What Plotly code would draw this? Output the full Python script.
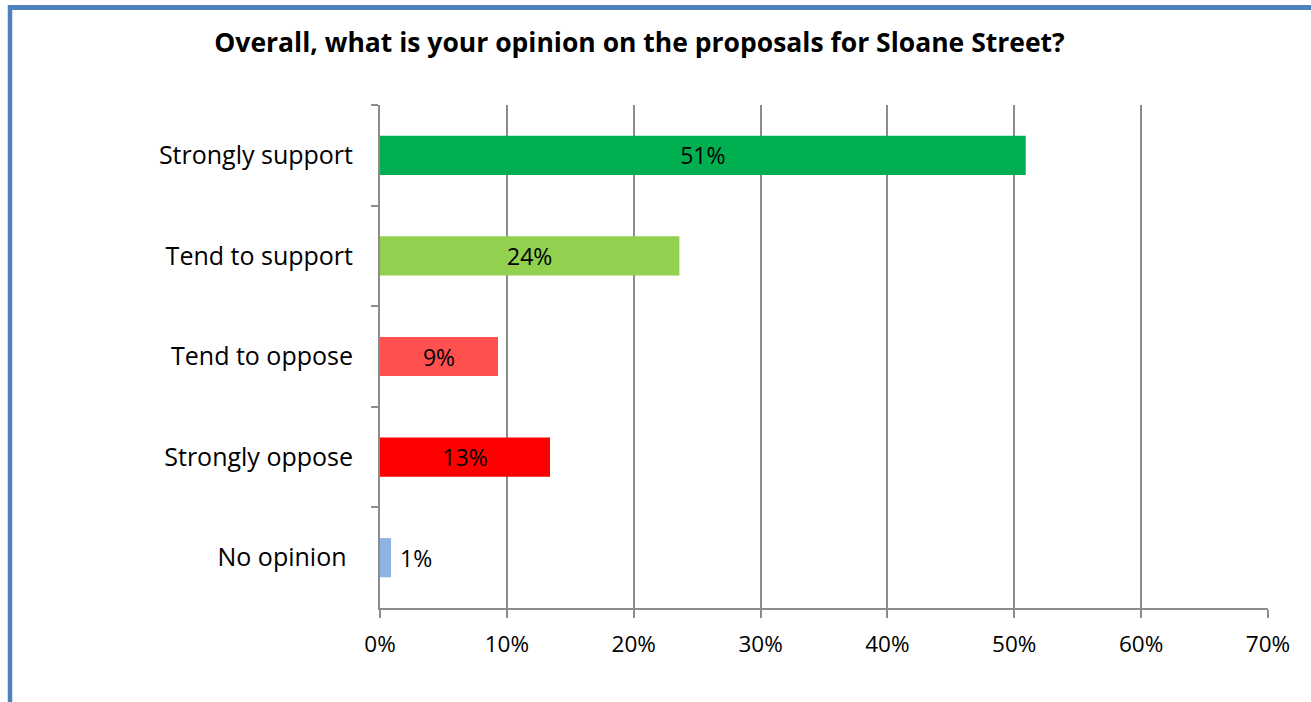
import plotly.graph_objects as go

# Survey responses
categories = ["Strongly support", "Tend to support", "Tend to oppose",
              "Strongly oppose", "No opinion\u00a0"]
shares = [0.509, 0.236, 0.093, 0.134, 0.0087]
bar_colors = ["#00B050", "#92D050", "#FF5050", "#FF0000", "#8DB4E2"]
label_positions = ["inside", "inside", "inside", "inside", "outside"]
label_templates = ["%{x:.0%}"] * 4 + ["\u00a0%{x:.0%}"]

title_text = "Overall, what is your opinion on the proposals for Sloane Street?"
font_family = "Open Sans"
grid_color = "#8C8C8C"
frame_color = "#4F81BD"

W, H = 1311, 702
L, R, T, B = 380, 43, 105, 94
PW, PH = W - L - R, H - T - B


def px_to_paper_x(px):
    return (px - L) / PW


def px_to_paper_y(py):
    return 1 - (py - T) / PH


fig = go.Figure(
    go.Bar(
        x=shares,
        y=categories,
        orientation="h",
        width=0.39,
        marker=dict(color=bar_colors, line=dict(width=0)),
        texttemplate=label_templates,
        textposition=label_positions,
        insidetextanchor="middle",
        constraintext="none",
        textfont=dict(family=font_family, size=23, color="#000000"),
        cliponaxis=False,
    )
)

fig.update_layout(
    width=W,
    height=H,
    margin=dict(l=L, r=R, t=T, b=B),
    paper_bgcolor="white",
    plot_bgcolor="white",
    showlegend=False,
    font=dict(family=font_family, color="#000000"),
    title=dict(
        text=f"<b>{title_text}</b>",
        xref="container",
        yref="container",
        x=639.5 / W,
        y=1 - 43 / H,
        xanchor="center",
        yanchor="middle",
        font=dict(family=font_family, size=26.5, color="#000000"),
    ),
    xaxis=dict(
        range=[0, 0.7],
        dtick=0.1,
        tick0=0,
        tickformat=".0%",
        showgrid=True,
        gridcolor=grid_color,
        gridwidth=2,
        zeroline=False,
        showline=True,
        linecolor=grid_color,
        linewidth=2,
        ticks="outside",
        ticklen=8,
        tickwidth=2,
        tickcolor=grid_color,
        tickfont=dict(family=font_family, size=22.5, color="#000000"),
        ticklabelstandoff=7,
    ),
    yaxis=dict(
        autorange="reversed",
        showgrid=False,
        zeroline=False,
        showline=True,
        linecolor=grid_color,
        linewidth=2,
        ticks="outside",
        tickson="boundaries",
        ticklen=7,
        tickwidth=2,
        tickcolor=grid_color,
        tickfont=dict(family=font_family, size=25, color="#000000"),
        ticklabelstandoff=20,
    ),
    shapes=[
        # chart frame: left and top edges
        dict(type="line", xref="paper", yref="paper",
             x0=px_to_paper_x(10), x1=px_to_paper_x(10),
             y0=px_to_paper_y(5), y1=px_to_paper_y(720),
             line=dict(color=frame_color, width=4.5)),
        dict(type="line", xref="paper", yref="paper",
             x0=px_to_paper_x(8), x1=px_to_paper_x(1330),
             y0=px_to_paper_y(7.5), y1=px_to_paper_y(7.5),
             line=dict(color=frame_color, width=5)),
    ],
)

fig.write_html("out.html")
